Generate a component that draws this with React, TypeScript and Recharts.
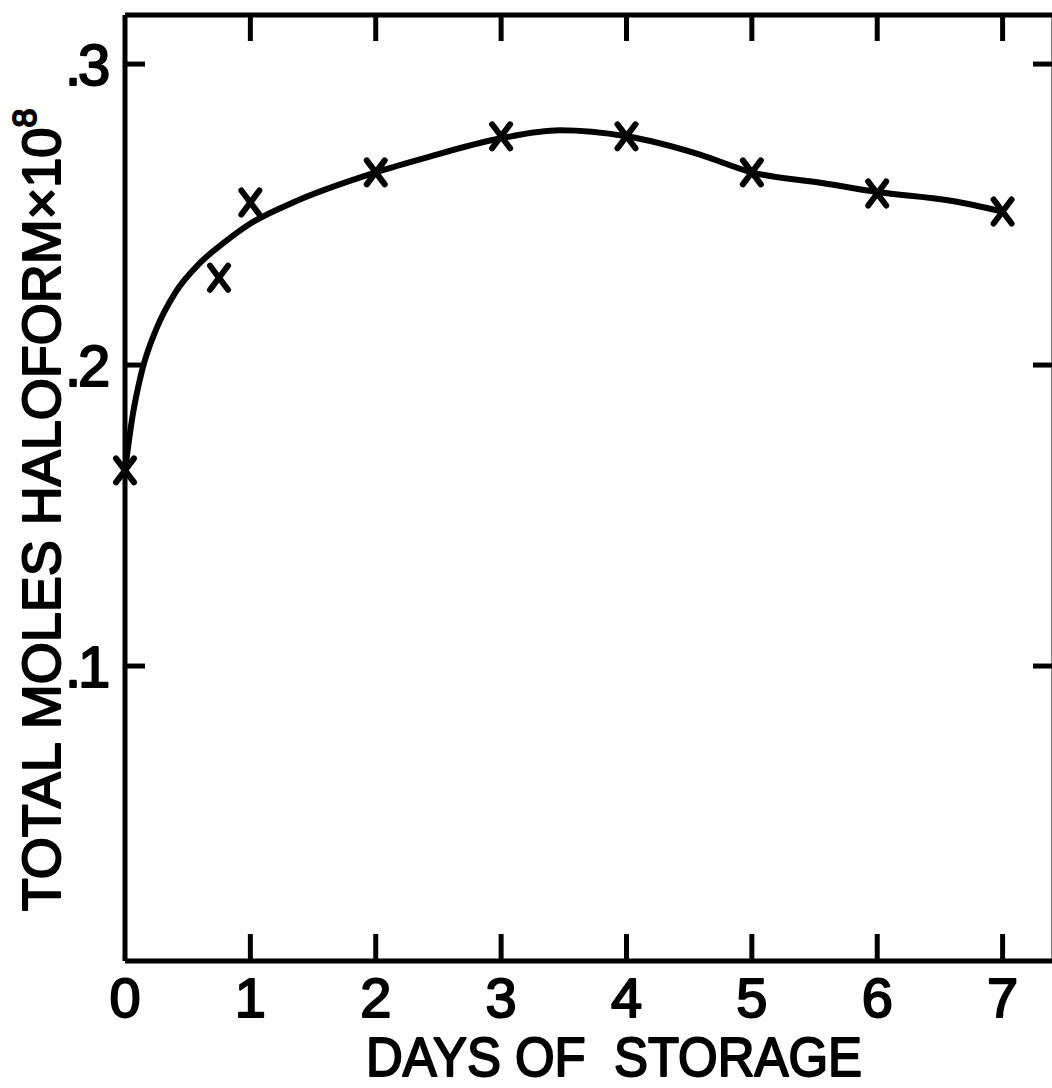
import {
  ComposedChart,
  Line,
  Scatter,
  XAxis,
  YAxis,
} from 'recharts';

// measured points (x marks)
const days = [0, 0.75, 1, 2, 3, 4, 5, 6, 7];
const moles = [0.165, 0.229, 0.254, 0.264, 0.276, 0.276, 0.264, 0.257, 0.251];

// hand-drawn smooth curve
const curveDays = [0, 0.06, 0.135, 0.25, 0.4, 0.6, 0.8, 1, 1.34, 2, 2.41, 2.96, 3.47, 4, 4.58, 5, 5.56, 6, 6.6, 7];
const curveMoles = [0.165, 0.183, 0.198, 0.212, 0.224, 0.234, 0.241, 0.247, 0.254, 0.264, 0.269, 0.275, 0.278, 0.276, 0.27, 0.264, 0.2605, 0.2575, 0.2545, 0.251];

const xTicks = [0, 1, 2, 3, 4, 5, 6, 7];
const yTicks = [0.1, 0.2, 0.3];
const yTickLabels: Record<string, string> = { '0.1': '.1', '0.2': '.2', '0.3': '.3' };

const xDomain: [number, number] = [0, 7.41];
const yDomain: [number, number] = [0.002, 0.3163];

const font = '"Liberation Sans", Arial, sans-serif';
const ink = '#000';

const points = days.map((d, i) => ({ d, v: moles[i] }));
const curve = curveDays.map((d, i) => ({ d, v: curveMoles[i] }));

const textInk = {
  fontFamily: font,
  fill: ink,
  stroke: ink,
  strokeWidth: 2,
  strokeLinejoin: 'round' as const,
};

const XMark = (props: any) => {
  const { cx, cy } = props;
  if (cx == null || cy == null) return null;
  return (
    <g stroke={ink} strokeWidth={6} strokeLinecap="round">
      <line x1={cx - 9} y1={cy - 12} x2={cx + 9} y2={cy + 12} />
      <line x1={cx + 9} y1={cy - 12} x2={cx - 9} y2={cy + 12} />
    </g>
  );
};

const BottomTick = (props: any) => {
  const { x, y, payload } = props;
  return (
    <g>
      {payload.value !== 0 && (
        <line x1={x} y1={y} x2={x} y2={y - 27} stroke={ink} strokeWidth={5} />
      )}
      <text x={x} y={y + 56} textAnchor="middle" fontSize={56} {...textInk}>
        {payload.value}
      </text>
    </g>
  );
};

const TopTick = (props: any) => {
  const { x, y, payload } = props;
  if (payload.value === 0) return <g />;
  return <line x1={x} y1={y} x2={x} y2={y + 26} stroke={ink} strokeWidth={5} />;
};

const LeftTick = (props: any) => {
  const { x, y, payload } = props;
  return (
    <g>
      <line x1={x} y1={y} x2={x + 20} y2={y} stroke={ink} strokeWidth={5} />
      <text x={x - 60} y={y + 21} textAnchor="start" fontSize={58} letterSpacing={-3} {...textInk}>
        {yTickLabels[String(payload.value)]}
      </text>
    </g>
  );
};

const RightTick = (props: any) => {
  const { x, y } = props;
  return <line x1={x} y1={y} x2={x - 21} y2={y} stroke={ink} strokeWidth={5} />;
};

export default function App() {
  return (
    <div
      style={{
        position: 'absolute',
        left: 0,
        top: 0,
        width: 1052,
        height: 1088,
        overflow: 'hidden',
        background: '#fff',
      }}
    >
      <ComposedChart
        width={1060}
        height={1088}
        margin={{ top: 0, right: 0, left: 0, bottom: 0 }}
      >
        <XAxis
          dataKey="d"
          type="number"
          domain={xDomain}
          ticks={xTicks}
          height={127}
          axisLine={{ stroke: ink, strokeWidth: 5 }}
          tickLine={false}
          tickSize={0}
          tickMargin={0}
          tick={<BottomTick />}
          interval={0}
        />
        <XAxis
          xAxisId="top"
          orientation="top"
          dataKey="d"
          type="number"
          domain={xDomain}
          ticks={xTicks}
          height={15}
          axisLine={{ stroke: ink, strokeWidth: 5 }}
          tickLine={false}
          tickSize={0}
          tickMargin={0}
          tick={<TopTick />}
          interval={0}
        />
        <YAxis
          dataKey="v"
          type="number"
          domain={yDomain}
          ticks={yTicks}
          width={125}
          axisLine={{ stroke: ink, strokeWidth: 5 }}
          tickLine={false}
          tickSize={0}
          tickMargin={0}
          tick={<LeftTick />}
          interval={0}
        />
        <YAxis
          yAxisId="right"
          orientation="right"
          dataKey="v"
          type="number"
          domain={yDomain}
          ticks={yTicks}
          width={6}
          axisLine={{ stroke: ink, strokeWidth: 5 }}
          tickLine={false}
          tickSize={0}
          tickMargin={0}
          tick={<RightTick />}
          interval={0}
        />
        <Line
          data={curve}
          dataKey="v"
          type="monotone"
          stroke={ink}
          strokeWidth={6}
          strokeLinecap="round"
          dot={false}
          activeDot={false}
          isAnimationActive={false}
        />
        <Line
          data={curve}
          dataKey="v"
          xAxisId="top"
          yAxisId="right"
          stroke="none"
          dot={false}
          activeDot={false}
          isAnimationActive={false}
        />
        <Scatter data={points} dataKey="v" shape={<XMark />} isAnimationActive={false} />
        <text
          x={614}
          y={1076}
          textAnchor="middle"
          fontSize={55}
          textLength={496}
          lengthAdjust="spacingAndGlyphs"
          style={{ whiteSpace: 'pre' }}
          {...textInk}
        >
          DAYS OF  STORAGE
        </text>
        <text
          x={60}
          y={510}
          transform="rotate(-90, 60, 510)"
          textAnchor="middle"
          fontSize={54}
          {...textInk}
        >
          <tspan>TOTAL MOLES HALOFORM×10</tspan>
          <tspan dy={-24} fontSize={34}>8</tspan>
        </text>
      </ComposedChart>
    </div>
  );
}
